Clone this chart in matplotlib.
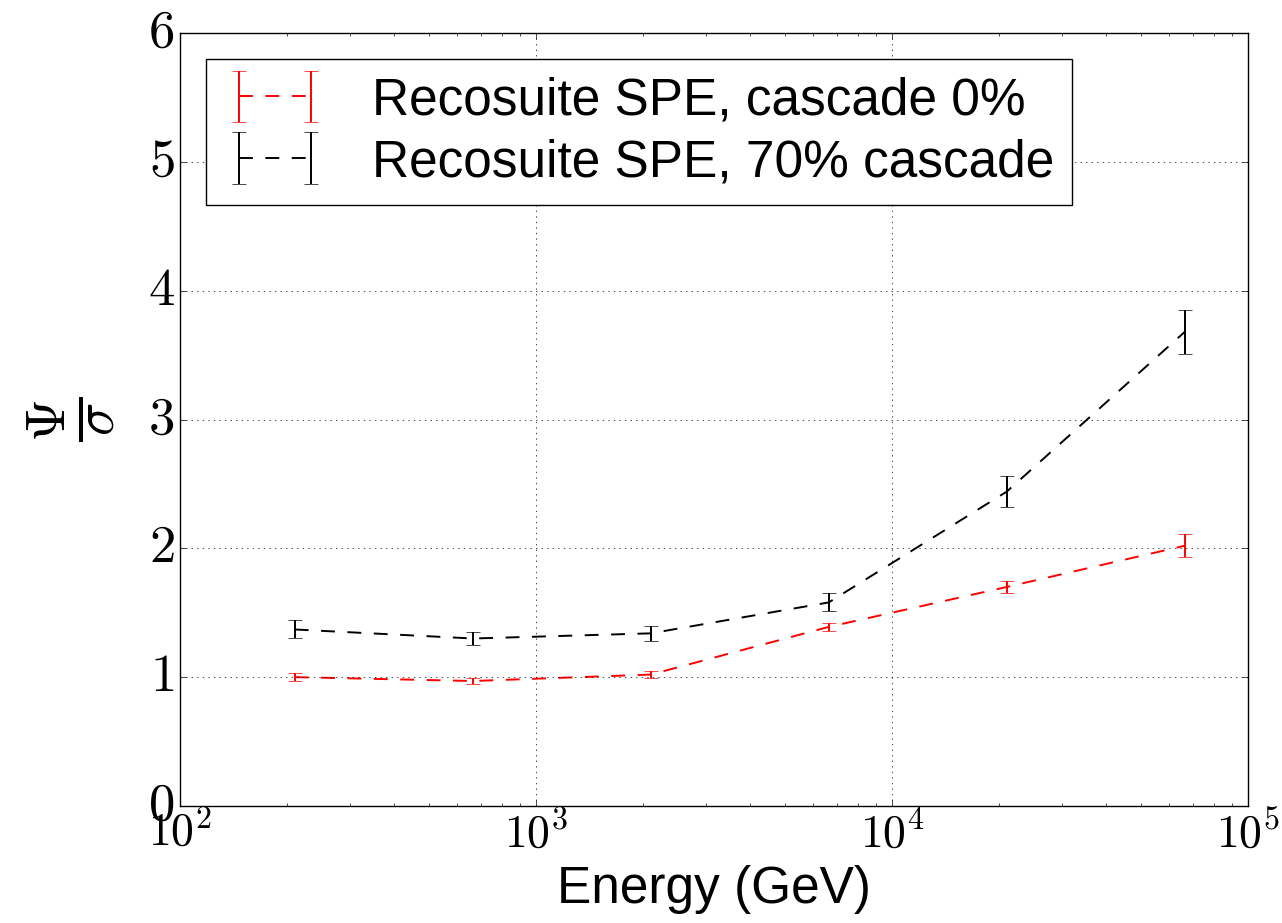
import matplotlib
matplotlib.use("Agg")
import numpy as np
import matplotlib.pyplot as plt
from matplotlib.ticker import FuncFormatter

plt.style.use("classic")
plt.rcParams["mathtext.fontset"] = "cm"
plt.rcParams["font.family"] = ["Liberation Sans", "DejaVu Sans"]

# energy bin centres (GeV) and Psi/sigma values
energy = [210, 665, 2100, 6640, 21000, 66400]
cascade_0 = [1.00, 0.97, 1.02, 1.39, 1.70, 2.02]
cascade_0_err = [0.03, 0.02, 0.03, 0.03, 0.05, 0.09]
cascade_70 = [1.37, 1.30, 1.34, 1.58, 2.44, 3.68]
cascade_70_err = [0.07, 0.05, 0.06, 0.07, 0.12, 0.17]

labels = ["Recosuite SPE, cascade 0%", "Recosuite SPE, 70% cascade"]

fig = plt.figure(figsize=(12.82, 9.23), dpi=100)
fig.patch.set_facecolor("white")
ax = fig.add_subplot(111)
fig.subplots_adjust(left=0.1404, right=0.9735, top=0.9642, bottom=0.1268)

ax.errorbar(energy, cascade_0, yerr=cascade_0_err, color="red", ecolor="red",
            linestyle="--", dashes=(10, 9), linewidth=1.4, capsize=5, label=labels[0])
ax.errorbar(energy, cascade_70, yerr=cascade_70_err, color="black", ecolor="black",
            linestyle="--", dashes=(10, 9), linewidth=1.4, capsize=5, label=labels[1])

ax.set_xscale("log")
ax.set_xlim(1e2, 1e5)
ax.set_ylim(0, 6)
ax.grid(True)
ax.xaxis.set_major_formatter(FuncFormatter(lambda v, p: "$10^{%d}$" % round(np.log10(v))))
ax.yaxis.set_major_formatter(FuncFormatter(lambda v, p: "$%d$" % v))
ax.tick_params(axis="x", labelsize=33)
ax.tick_params(axis="y", labelsize=38)

ax.set_xlabel("Energy (GeV)", fontsize=37)
ax.set_ylabel(r"$\frac{\Psi}{\sigma}$", fontsize=57, labelpad=22)

leg = ax.legend(loc="upper left", fontsize=37, numpoints=2, handlelength=2.0,
                handletextpad=0.9, labelspacing=0.25, borderpad=0.34, borderaxespad=0.5)

fig.savefig("out.png", dpi=100, facecolor="white")
